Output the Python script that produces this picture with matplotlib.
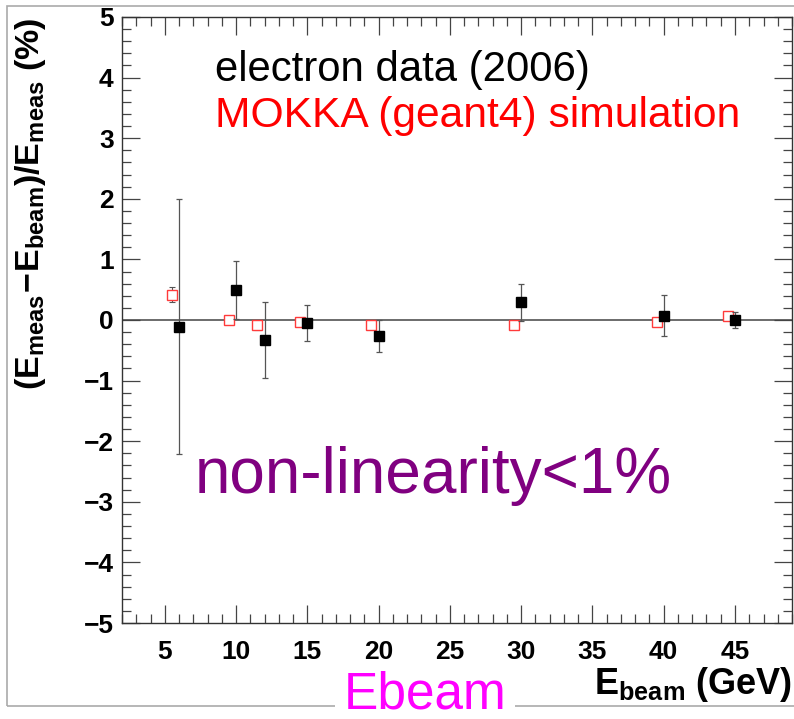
import matplotlib
matplotlib.use("Agg")
import matplotlib.pyplot as plt
from matplotlib.patches import Rectangle
from matplotlib.ticker import MultipleLocator

# Beam energies and relative residuals (%)
data_ebeam = [6, 10, 12, 15, 20, 30, 40, 45]
data_resid = [-0.11, 0.50, -0.33, -0.05, -0.26, 0.29, 0.07, 0.0]
data_err = [2.1, 0.48, 0.63, 0.30, 0.26, 0.30, 0.34, 0.14]

sim_ebeam = [5.5, 9.5, 11.5, 14.5, 19.5, 29.5, 39.5, 44.5]
sim_resid = [0.42, 0.0, -0.09, -0.04, -0.09, -0.08, -0.04, 0.06]
sim_err = [0.12, 0.02, 0.07, 0.04, 0.03, 0.02, 0.03, 0.04]

plt.rcParams["font.family"] = ["Liberation Sans", "DejaVu Sans"]
plt.rcParams["mathtext.fontset"] = "custom"
plt.rcParams["mathtext.rm"] = "Liberation Sans"
plt.rcParams["mathtext.bf"] = "Liberation Sans:bold"

fig = plt.figure(figsize=(7.94, 7.19), dpi=100)
ax = fig.add_axes([0.1537, 0.1335, 0.8438, 0.8429])

# outer frame around the canvas
frame = Rectangle((7 / 794, 13 / 719), 1.2, 700 / 719, transform=fig.transFigure,
                  fill=False, ec="#aaaaaa", lw=1.2, zorder=0)
fig.patches.append(frame)

ax.axhline(0, color="#444444", lw=1.1, zorder=1)

ax.errorbar(sim_ebeam, sim_resid, yerr=sim_err, fmt="none", ecolor="#555555",
            elinewidth=0.8, capsize=2.5, capthick=0.8, zorder=2)
ax.plot(sim_ebeam, sim_resid, "s", ms=7.2, mfc="white", mec="#ff3a3a",
        mew=1.0, zorder=3)
ax.errorbar(data_ebeam, data_resid, yerr=data_err, fmt="s", ms=7.8, mfc="black",
            mec="black", ecolor="#555555", elinewidth=0.9,
            capsize=2.5, capthick=0.9, zorder=4)

ax.set_xlim(2, 49)
ax.set_ylim(-5, 5)
ax.xaxis.set_major_locator(MultipleLocator(5))
ax.xaxis.set_minor_locator(MultipleLocator(1))
ax.yaxis.set_major_locator(MultipleLocator(1))
ax.yaxis.set_minor_locator(MultipleLocator(0.2))
ax.tick_params(which="both", direction="in", top=True, right=True,
               color="#444444", width=0.9)
ax.tick_params(which="major", length=13)
ax.tick_params(which="minor", length=6.5)
ax.tick_params(axis="x", which="major", pad=12)
ax.tick_params(axis="y", which="major", pad=6)
for lab in ax.get_xticklabels() + ax.get_yticklabels():
    lab.set_fontsize(19)
    lab.set_fontweight("bold")
for sp in ax.spines.values():
    sp.set_color("#333333")
    sp.set_linewidth(1.0)

ax.text(0.139, 0.913, "electron data (2006)", transform=ax.transAxes,
        fontsize=30.2, color="black", va="center", ha="left")
ax.text(0.139, 0.837, "MOKKA (geant4) simulation", transform=ax.transAxes,
        fontsize=30.7, color="red", va="center", ha="left")
ax.text(0.109, 0.243, "non-linearity<1%", transform=ax.transAxes,
        fontsize=46, color="#800080", va="center", ha="left")

fig.text(31 / 794, 1 - 18 / 719,
         r"$\mathbf{(E_{meas}\!-\!E_{beam})/E_{meas}}$ $\mathbf{(\%)}$",
         rotation=90, ha="center", va="top", fontsize=24.5)
fig.text(792 / 794, 1 - 684 / 719, r"$\mathbf{E_{beam}}$ $\mathbf{(GeV)}$",
         ha="right", va="center", fontsize=26)
fig.text(425 / 794, 1 - 695 / 719, "Ebeam", ha="center", va="center",
         fontsize=37, color="#ff00ff", zorder=5,
         bbox=dict(fc="white", ec="none", pad=6))

fig.savefig("out.png", dpi=100)
